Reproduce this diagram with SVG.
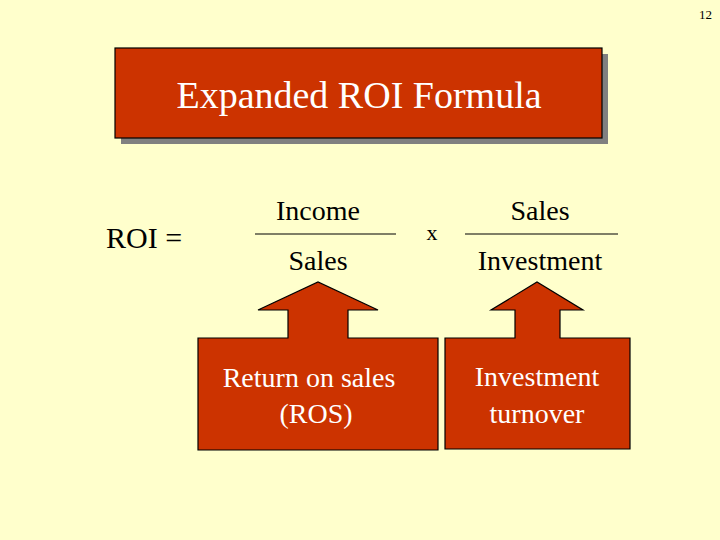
<svg xmlns="http://www.w3.org/2000/svg" width="720" height="540" viewBox="0 0 720 540">
<style>
text{font-family:"Liberation Serif","Times New Roman",serif;fill:#000}
.w{fill:#fff}
.box{fill:#cc3300;stroke:#000;stroke-width:1.2}
</style>
<rect width="720" height="540" fill="#ffffcc"/>
<text x="712" y="19" font-size="13" text-anchor="end">12</text>
<g id="title">
<rect x="121" y="54" width="487" height="90" fill="#808080"/>
<rect class="box" x="115" y="48" width="487" height="90"/>
<text class="w" x="359" y="108" font-size="38" text-anchor="middle">Expanded ROI Formula</text>
</g>
<g id="formula">
<text x="106" y="248" font-size="30">ROI =</text>
<text x="318" y="220" font-size="28" text-anchor="middle">Income</text>
<text x="318" y="270" font-size="28" text-anchor="middle">Sales</text>
<text x="432" y="240" font-size="22" text-anchor="middle">x</text>
<text x="540" y="220" font-size="28" text-anchor="middle">Sales</text>
<text x="540" y="270" font-size="28" text-anchor="middle">Investment</text>
</g>
<g id="connectors" stroke="#000" stroke-width="1.2">
<line x1="255" y1="234" x2="396" y2="234"/>
<line x1="465" y1="234" x2="618" y2="234"/>
</g>
<g id="ros">
<path class="box" d="M198,338 H288 V310 H258 L318,282 L378,310 H348 V338 H438 V450 H198 Z"/>
<text class="w" x="309" y="387" font-size="28" text-anchor="middle">Return on sales</text>
<text class="w" x="316" y="423" font-size="28" text-anchor="middle">(ROS)</text>
</g>
<g id="turnover">
<path class="box" d="M445,338 H515 V310 H491 L537,282 L583,310 H560 V338 H630 V449 H445 Z"/>
<text class="w" x="537" y="386" font-size="28" text-anchor="middle">Investment</text>
<text class="w" x="537" y="423" font-size="28" text-anchor="middle">turnover</text>
</g>
</svg>
